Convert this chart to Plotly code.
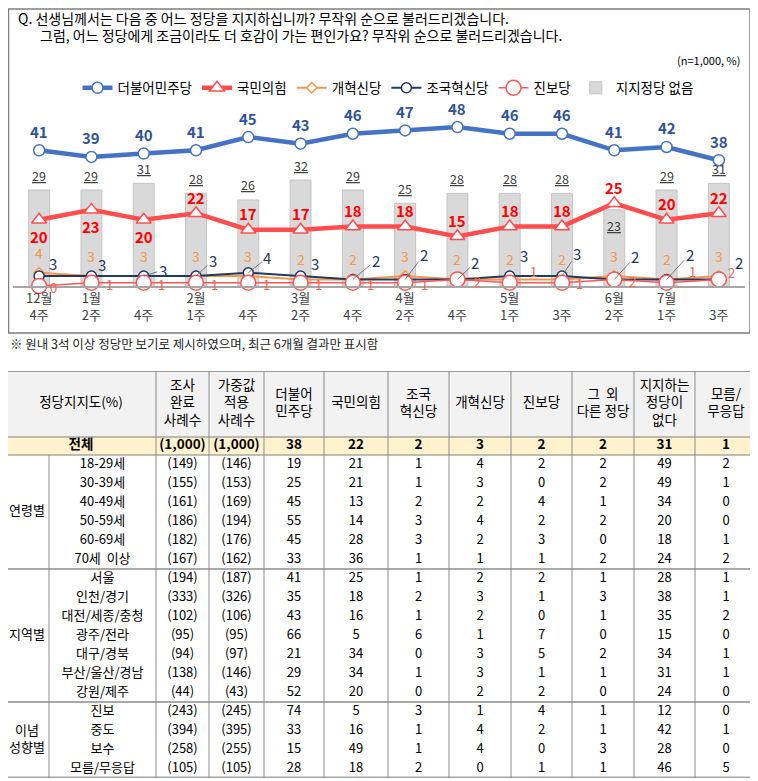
import plotly.graph_objects as go

# 페이지 body 기본 여백(8px)을 감안해 그림 크기와 좌표를 맞춤
OX, OY = 8, 8
W, H = 758 - OX, 781 - OY
FONT = "Noto Sans CJK KR"

# ---- 추이 차트 데이터 ----
WEEKS = ["12월<br>4주", "1월<br>2주", " <br>4주", "2월<br>1주", " <br>4주", "3월<br>2주", " <br>4주",
         "4월<br>2주", " <br>4주", "5월<br>1주", " <br>3주", "6월<br>2주", "7월<br>1주", " <br>3주"]
DPK = [41, 39, 40, 41, 45, 43, 46, 47, 48, 46, 46, 41, 42, 38]
PPP = [20, 23, 20, 22, 17, 17, 18, 18, 15, 18, 18, 25, 20, 22]
REFORM = [4, 3, 3, 3, 3, 2, 2, 3, 2, 2, 2, 3, 2, 3]
REBUILD = [3, 3, 3, 3, 4, 3, 2, 2, 2, 3, 3, 2, 2, 2]
PROGRESSIVE = [0, 1, 1, 1, 1, 1, 1, 1, 2, 1, 1, 2, 1, 2]
NO_PARTY = [29, 29, 31, 28, 26, 32, 29, 25, 28, 28, 28, 23, 29, 31]

# ---- 표 데이터 ----
HEADERS = ["정당지지도(%)", "조사<br>완료<br>사례수", "가중값<br>적용<br>사례수", "더불어<br>민주당", "국민의힘",
           "조국<br>혁신당", "개혁신당", "진보당", "그  외<br>다른 정당", "지지하는<br>정당이<br>없다", "모름/<br>무응답"]
TOTAL = ["(1,000)", "(1,000)", "38", "22", "2", "3", "2", "2", "31", "1"]
GROUPS = ["연령별", "지역별", "이념<br>성향별"]
GROUP_SIZES = [6, 7, 4]
SUBGROUPS = ["18-29세", "30-39세", "40-49세", "50-59세", "60-69세", "70세  이상",
             "서울", "인천/경기", "대전/세종/충청", "광주/전라", "대구/경북", "부산/울산/경남", "강원/제주",
             "진보", "중도", "보수", "모름/무응답"]
N_RAW = [149, 155, 161, 186, 182, 167, 194, 333, 102, 95, 94, 138, 44, 243, 394, 258, 105]
N_WEIGHTED = [146, 153, 169, 194, 176, 162, 187, 326, 106, 95, 97, 146, 43, 245, 395, 255, 105]
T_DPK = [19, 25, 45, 55, 45, 33, 41, 35, 43, 66, 21, 29, 52, 74, 33, 15, 28]
T_PPP = [21, 21, 13, 14, 28, 36, 25, 18, 16, 5, 34, 34, 20, 5, 16, 49, 18]
T_REBUILD = [1, 1, 2, 3, 3, 1, 1, 2, 1, 6, 0, 1, 0, 3, 1, 1, 2]
T_REFORM = [4, 3, 2, 4, 2, 1, 2, 3, 2, 1, 3, 3, 2, 1, 4, 4, 0]
T_PROG = [2, 0, 4, 2, 3, 1, 2, 1, 0, 7, 5, 1, 2, 4, 2, 0, 1]
T_OTHER = [2, 2, 1, 2, 0, 2, 1, 3, 1, 0, 2, 1, 0, 1, 1, 3, 1]
T_NONE = [49, 49, 34, 20, 18, 24, 28, 38, 35, 15, 34, 31, 24, 12, 42, 28, 46]
T_DK = [2, 1, 0, 0, 1, 2, 1, 1, 2, 0, 1, 1, 0, 0, 1, 0, 5]


def px(x):
    return (x - OX) / W


def py(y):
    return 1 - (y - OY) / H


C_DPK, C_DPK_TXT = "#4472c4", "#2f5597"
C_PPP, C_PPP_TXT = "#ff4d4d", "#ff0000"
C_REF = "#f79646"
C_REB = "#1f3864"
C_PRO, C_PRO_TXT = "#ff5757", "#f2674f"

xs = list(range(len(WEEKS)))
fig = go.Figure()

fig.add_trace(go.Bar(x=xs, y=NO_PARTY, name="지지정당 없음", width=0.4, legendrank=6,
                     marker=dict(color="#d9d9d9", line=dict(color="#c4c4c4", width=1))))
fig.add_trace(go.Scatter(x=xs, y=REFORM, name="개혁신당", mode="lines+markers", legendrank=3, cliponaxis=False,
                         line=dict(color=C_REF, width=2),
                         marker=dict(symbol="diamond", size=8, color="white", line=dict(color=C_REF, width=1.5))))
fig.add_trace(go.Scatter(x=xs, y=REBUILD, name="조국혁신당", mode="lines+markers", legendrank=4, cliponaxis=False,
                         line=dict(color=C_REB, width=2),
                         marker=dict(size=10, color="white", line=dict(color=C_REB, width=1.5))))
fig.add_trace(go.Scatter(x=xs, y=PROGRESSIVE, name="진보당", mode="lines+markers", legendrank=5, cliponaxis=False,
                         line=dict(color=C_PRO, width=1.5),
                         marker=dict(size=15, color="white", line=dict(color=C_PRO, width=1.5))))
fig.add_trace(go.Scatter(x=xs, y=PPP, name="국민의힘", mode="lines+markers", legendrank=2, cliponaxis=False,
                         line=dict(color=C_PPP, width=4.5),
                         marker=dict(symbol="triangle-up", size=13, color="white", line=dict(color=C_PPP, width=1.5))))
fig.add_trace(go.Scatter(x=xs, y=DPK, name="더불어민주당", mode="lines+markers", legendrank=1, cliponaxis=False,
                         line=dict(color=C_DPK, width=4.5),
                         marker=dict(size=11, color="white", line=dict(color=C_DPK, width=1.5))))

annots = []


def label(x, y, text, color, size, dx, dy, arrow=False):
    a = dict(x=x, y=y, xref="x", yref="y", text=text, font=dict(family=FONT, size=size, color=color))
    if arrow:
        a.update(showarrow=True, ax=dx, ay=dy, arrowhead=0, arrowwidth=0.8, arrowcolor="#595959")
    else:
        a.update(showarrow=False, xshift=dx, yshift=-dy)
    annots.append(a)


# 라벨 위치 (픽셀 오프셋)
PPP_DY = [17, 17, 17] + [-16] * 11
BAR_DY = [-15] * 11 + [16] + [-15] * 2
REB_OFF = [(14, -13, 0), (11, -12, 0), (19, -6, 1), (17, -16, 1), (19, -15, 1), (14, -13, 0), (23, -19, 1),
           (19, -25, 1), (18, -17, 1), (14, -21, 0), (15, -23, 1), (21, -23, 1), (23, -25, 1), (20, -17, 0)]
PRO_OFF = [(14, 1), (18, 2), (18, 2), (18, 2), (18, 2), (18, 2), (18, 2), (19, 2), (20, 2), (24, -11),
           (17, 1), (18, 2), (26, -11), (13, -7)]

for i in xs:
    label(i, NO_PARTY[i], f"<u>{NO_PARTY[i]}</u>", "#404040", 12.5, 0, BAR_DY[i])
    label(i, REFORM[i], str(REFORM[i]), C_REF, 14, 0, -20)
    dx, dy, arr = REB_OFF[i]
    label(i, REBUILD[i], str(REBUILD[i]), C_REB, 15, dx, dy, arrow=bool(arr))
    label(i, PROGRESSIVE[i], str(PROGRESSIVE[i]), C_PRO_TXT, 13, *PRO_OFF[i])
    label(i, PPP[i], f"<b>{PPP[i]}</b>", C_PPP_TXT, 15, 0, PPP_DY[i])
    label(i, DPK[i], f"<b>{DPK[i]}</b>", C_DPK_TXT, 15, 0, -19)

# ---- 표 (x2 / y2 축, 단위: 표 상단 기준 픽셀) ----
EDGES = [OX, 49, 156, 209, 264, 324, 388, 449, 511, 572, 634, 695, 757]
CENTERS = [(a + b) / 2 for a, b in zip(EDGES[:-1], EDGES[1:])]
CENTERS[0] = 27
TABLE_TOP = 371
HEAD_H, TOT_H, ROW_H = 66, 18, 19
n_rows = len(SUBGROUPS)
table_h = HEAD_H + TOT_H + ROW_H * n_rows
row_y = [HEAD_H + TOT_H + ROW_H * r + ROW_H / 2 for r in range(n_rows)]
label_x = 81

fig.add_trace(go.Scatter(x=[label_x] + CENTERS[2:], y=[HEAD_H / 2] * len(HEADERS), text=HEADERS,
                         mode="text", textfont=dict(family=FONT, size=13.5, color="#000000"),
                         xaxis="x2", yaxis="y2", showlegend=False, hoverinfo="skip", cliponaxis=False))
fig.add_trace(go.Scatter(x=[label_x] + CENTERS[2:], y=[HEAD_H + TOT_H / 2] * (len(TOTAL) + 1),
                         text=[f"<b>{t}</b>" for t in ["전체"] + TOTAL],
                         mode="text", textfont=dict(family=FONT, size=13.5, color="#000000"),
                         xaxis="x2", yaxis="y2", showlegend=False, hoverinfo="skip", cliponaxis=False))

columns = [[f"({v})" for v in N_RAW], [f"({v})" for v in N_WEIGHTED], T_DPK, T_PPP, T_REBUILD, T_REFORM,
           T_PROG, T_OTHER, T_NONE, T_DK]
bx, by, bt = [], [], []
for r in range(n_rows):
    bx.append(CENTERS[1])
    by.append(row_y[r])
    bt.append(SUBGROUPS[r])
    for c, col in enumerate(columns):
        bx.append(CENTERS[c + 2])
        by.append(row_y[r])
        bt.append(str(col[r]))
start = 0
for g, size in zip(GROUPS, GROUP_SIZES):
    bx.append(CENTERS[0])
    by.append(sum(row_y[start:start + size]) / size)
    bt.append(g)
    start += size
fig.add_trace(go.Scatter(x=bx, y=by, text=bt, mode="text",
                         textfont=dict(family=FONT, size=13, color="#000000"),
                         xaxis="x2", yaxis="y2", showlegend=False, hoverinfo="skip", cliponaxis=False))

shapes = [
    # 차트 테두리
    dict(type="rect", xref="paper", yref="paper", x0=px(8.5), x1=px(750), y0=py(333), y1=py(9),
         line=dict(color="#7f7f7f", width=1.5), layer="below"),
    dict(type="rect", xref="x2", yref="y2", x0=EDGES[0], x1=EDGES[-1], y0=0, y1=HEAD_H,
         fillcolor="#f2f2f2", line=dict(width=0), layer="below"),
    dict(type="rect", xref="x2", yref="y2", x0=EDGES[0], x1=EDGES[-1], y0=HEAD_H, y1=HEAD_H + TOT_H,
         fillcolor="#fff2cc", line=dict(width=0), layer="below"),
]
for yv, col, w in [(0, "#7f7f7f", 1.5), (HEAD_H, "#7f7f7f", 1), (HEAD_H + TOT_H, "#7f7f7f", 1),
                   (table_h, "#a6a6a6", 3)]:
    shapes.append(dict(type="line", xref="x2", yref="y2", x0=EDGES[0], x1=EDGES[-1], y0=yv, y1=yv,
                       line=dict(color=col, width=w)))
acc = 0
for size in GROUP_SIZES[:-1]:
    acc += size
    yv = HEAD_H + TOT_H + ROW_H * acc
    shapes.append(dict(type="line", xref="x2", yref="y2", x0=EDGES[0], x1=EDGES[-1], y0=yv, y1=yv,
                       line=dict(color="#8c8c8c", width=1.5)))
for e in EDGES[2:-1]:
    shapes.append(dict(type="line", xref="x2", yref="y2", x0=e, x1=e, y0=0, y1=table_h,
                       line=dict(color="#8c8c8c", width=1)))
shapes.append(dict(type="line", xref="x2", yref="y2", x0=EDGES[1], x1=EDGES[1], y0=HEAD_H + TOT_H, y1=table_h,
                   line=dict(color="#8c8c8c", width=1)))

# 문항, 표본 정보, 각주
annots += [
    dict(xref="paper", yref="paper", x=px(16), y=py(18), xanchor="left", yanchor="middle", showarrow=False,
         text="Q. 선생님께서는 다음 중 어느 정당을 지지하십니까? 무작위 순으로 불러드리겠습니다.",
         font=dict(family=FONT, size=14, color="#000000")),
    dict(xref="paper", yref="paper", x=px(38), y=py(35), xanchor="left", yanchor="middle", showarrow=False,
         text="그럼, 어느 정당에게 조금이라도 더 호감이 가는 편인가요? 무작위 순으로 불러드리겠습니다.",
         font=dict(family=FONT, size=14, color="#000000")),
    dict(xref="paper", yref="paper", x=px(742), y=py(60), xanchor="right", yanchor="middle", showarrow=False,
         text="(n=1,000, %)", font=dict(family=FONT, size=11, color="#000000")),
    dict(xref="paper", yref="paper", x=px(8), y=py(343), xanchor="left", yanchor="middle", showarrow=False,
         text="※ 원내 3석 이상 정당만 보기로 제시하였으며, 최근 6개월 결과만 표시함",
         font=dict(family=FONT, size=12.5, color="#262626")),
]

fig.update_layout(
    width=W, height=H, margin=dict(l=0, r=0, t=0, b=0),
    paper_bgcolor="white", plot_bgcolor="rgba(0,0,0,0)",
    font=dict(family=FONT, color="#000000"),
    showlegend=True,
    legend=dict(orientation="h", x=px(388), xanchor="center", y=py(88), yanchor="middle",
                font=dict(family=FONT, size=13.5, color="#000000"), bgcolor="rgba(0,0,0,0)",
                traceorder="normal"),
    xaxis=dict(domain=[px(13), px(745)], range=[-0.5, 13.5], tickvals=xs, ticktext=WEEKS,
               showline=True, linecolor="#a6a6a6", linewidth=1.5, showgrid=False, zeroline=False,
               ticks="", tickfont=dict(family=FONT, size=13, color="#404040"), fixedrange=True),
    yaxis=dict(domain=[py(286), py(286 - 52 * 3.31)], range=[0, 52], visible=False, fixedrange=True),
    xaxis2=dict(domain=[px(EDGES[0]), px(EDGES[-1])], range=[EDGES[0], EDGES[-1]], visible=False,
                anchor="y2", fixedrange=True),
    yaxis2=dict(domain=[py(TABLE_TOP + table_h), py(TABLE_TOP)], range=[table_h, 0], visible=False,
                anchor="x2", fixedrange=True),
    shapes=shapes,
    annotations=annots,
    bargap=0.6,
)

fig.write_html("out.html")
